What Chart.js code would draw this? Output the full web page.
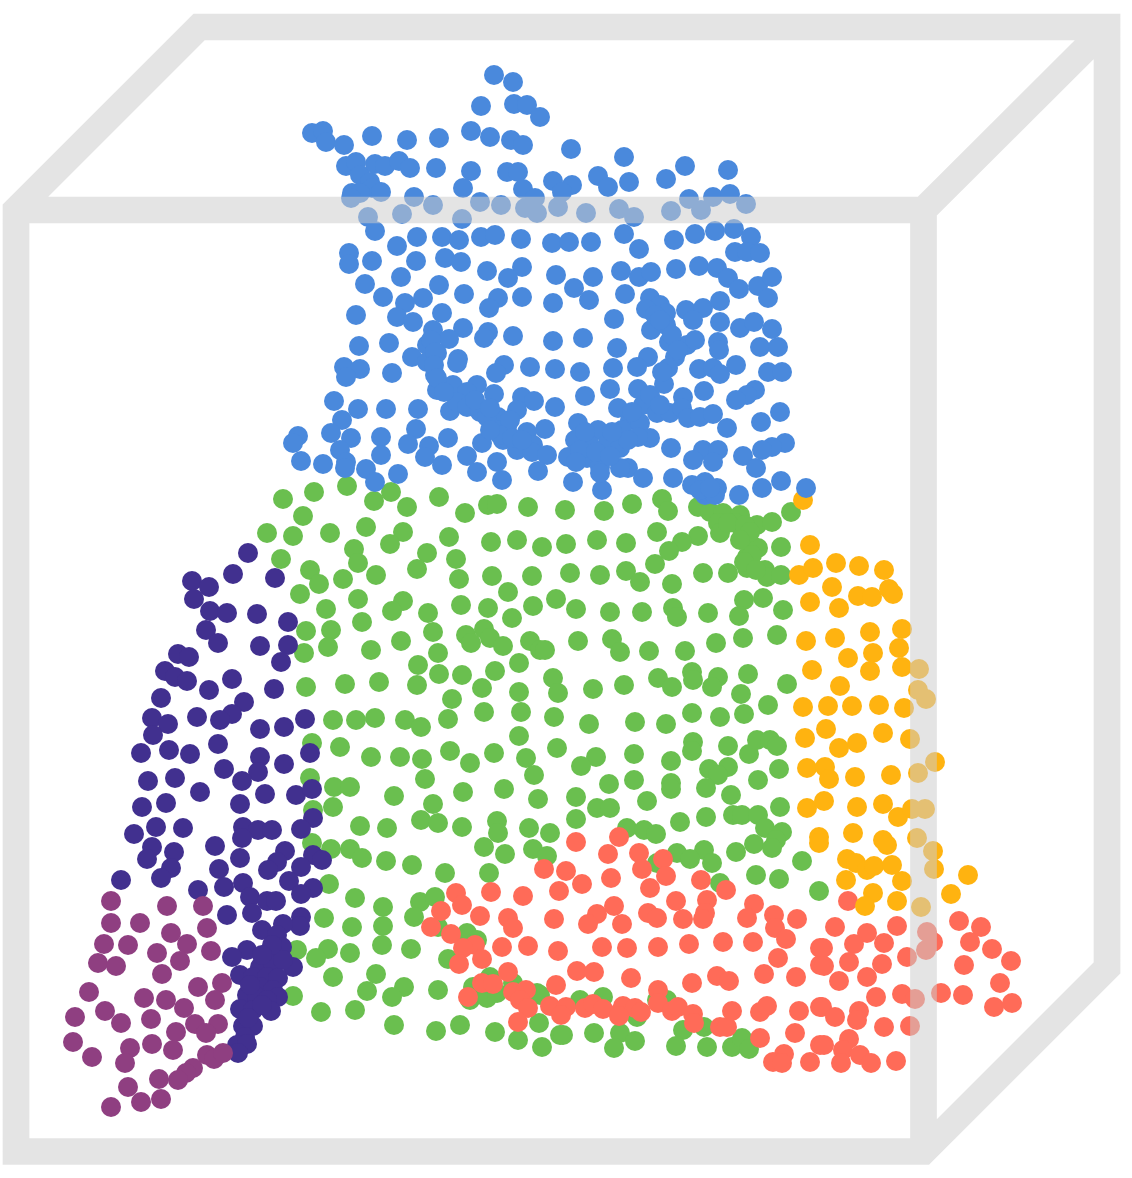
<!DOCTYPE html>
<html>
<head>
<meta charset="utf-8">
<title>3D cluster scatter</title>
<script src="https://cdn.jsdelivr.net/npm/chart.js@4/dist/chart.umd.js"></script>
<style>
html, body { margin: 0; padding: 0; background: #fff; }
canvas { display: block; filter: blur(0.5px); }
</style>
</head>
<body>
<canvas id="cube" width="1132" height="1178"></canvas>
<script>
// Cluster points as [x, y]
const bluePoints = [
[494,75],[513,82],[481,106],[514,104],[527,105],[540,117],[312,133],[323,131],[326,142],[344,145],[372,136],[407,140],[439,138],[471,131],[490,137],[511,140],[523,145],
[346,166],[356,162],[360,175],[375,164],[385,166],[399,161],[410,168],[436,168],[471,171],[507,172],[518,172],[463,188],[553,181],[370,182],[372,188],[352,193],[360,193],[381,192],[523,189],[535,198],[351,198],[414,197],[433,205],[480,202],[501,205],[525,208],[537,213],[368,217],[402,214],[462,219],[375,231],[417,237],[397,246],[442,237],[459,240],[481,237],[495,235],[521,239],[349,253],[349,264],[372,261],[416,261],[445,258],[461,262],[487,271],[522,267],[508,278],[365,284],[401,277],[439,285],
[571,149],[624,157],[685,166],[728,170],[572,185],[598,176],[608,187],[629,182],[666,179],[562,192],[689,199],[713,197],[730,194],[746,204],[701,210],[558,207],[586,213],[619,209],[634,217],[671,211],[624,234],[552,243],[569,242],[591,242],[639,249],[674,240],[695,234],[715,231],[734,229],[751,237],[735,252],[747,252],[760,253],[556,275],[593,277],[574,288],[621,271],[639,277],[651,272],[676,269],[699,266],[717,268],[728,278],[739,289],[758,286],[772,277],[768,298],[553,303],[589,300],[625,294],[650,298],[660,305],[646,309],[666,313],[686,310],[703,308],[720,301],[693,320],[720,322],[614,319],[651,330],[666,325],[740,328],[754,322],[772,329],[553,341],[583,338],[617,348],[669,342],[687,345],[695,340],[718,342],[760,347],[778,347],
[383,297],[423,298],[405,303],[464,294],[498,298],[489,308],[522,297],[356,315],[397,317],[413,322],[442,313],[433,330],[463,328],[449,339],[488,332],[484,338],[513,336],[359,346],[389,343],[427,345],[412,357],[437,353],[427,362],[458,359],[457,363],[344,367],[360,369],[346,377],[392,373],[435,375],[504,365],[496,373],[530,367],[555,369],[437,390],[453,385],[477,385],[467,392],[494,394],[522,397],[534,401],[517,410],[555,407],[334,401],[358,409],[386,409],[418,409],[450,411],[457,402],[467,407],[480,412],[498,417],[487,417],[342,420],[331,433],[416,429],[298,436],[293,443],[351,438],[381,437],[448,438],[545,429],[527,432],[507,427],[497,430],[482,443],[503,440],[408,444],[429,446],[340,450],[381,455],[425,457],[517,450],[533,445],[532,452],[547,455],[467,456],[497,462],[301,461],[323,464],[346,462],[345,468],[366,469],[375,482],[398,474],[442,465],[477,472],[502,480],[538,471],
[675,357],[719,350],[648,357],[637,367],[613,368],[580,372],[668,368],[664,384],[699,369],[713,368],[720,374],[736,365],[768,372],[782,372],[638,389],[610,389],[585,396],[704,391],[755,390],[747,395],[736,400],[683,397],[618,408],[643,405],[657,413],[670,413],[682,408],[688,418],[700,417],[713,414],[727,428],[780,412],[761,422],[578,423],[598,430],[630,420],[622,430],[640,423],[650,438],[638,437],[575,440],[608,443],[620,448],[590,445],[568,457],[587,458],[600,467],[671,448],[703,450],[718,450],[693,460],[713,462],[785,443],[772,447],[762,450],[743,456],[756,468],[628,468],[643,478],[620,468],[673,478],[573,482],[602,490],[600,473],[692,485],[705,482],[717,488],[705,495],[715,495],[739,495],[762,488],[781,481],[806,488],
[431,340],[435,352],[434,365],[437,378],[444,392],[475,400],[490,408],[510,420],[500,435],[512,438],[522,440],[490,430],[632,412],[628,440],[612,432],[585,432],[580,450],[596,452],[610,456],[576,462],[655,315],[660,320],[672,335],[678,350],[662,372],[650,395],[660,405],[700,490],[710,488]
];
const purplePoints = [
[248,553],[233,574],[275,578],[192,581],[209,587],[194,599],[210,611],[227,613],[257,614],[288,622],[206,630],[218,643],[260,646],[288,645],[281,662],[178,654],[189,657],[165,671],[175,677],[187,681],[232,679],[209,690],[274,689],[161,698],[244,702],[232,714],[220,720],[197,717],[152,718],[168,724],[153,735],[260,729],[284,727],[305,719],[141,753],[169,750],[190,754],[218,744],[260,757],[258,772],[310,753],[284,764],[224,769],[242,781],[148,781],[175,778],[200,792],[265,794],[296,795],[312,789],[142,807],[166,803],[240,804],[313,818],[301,829],[134,834],[156,827],[183,828],[243,827],[258,830],[272,830],
[242,838],[152,847],[147,859],[174,852],[171,868],[161,878],[121,880],[215,846],[240,858],[285,851],[277,862],[268,870],[219,869],[313,855],[322,860],[301,867],[289,881],[243,883],[224,887],[198,890],[313,888],[301,894],[250,897],[267,901],[276,901],[252,913],[227,915],[301,917],[300,926],[283,924],[262,930],[277,935],[282,947],[247,950],[232,957],[293,967],[260,967],[273,963],[283,960],[240,975],[253,977],[267,977],[278,978],[260,987],[273,990],[278,997],[247,995],[257,997],[267,1000],[240,1009],[253,1010],[271,1011],[243,1026],[253,1026],[245,1037],[237,1045],[247,1044],[238,1053],
[272,945],[262,955],[250,985],[262,1005],[248,1018]
];
const plumPoints = [
[111,901],[167,906],[203,906],[111,923],[140,923],[207,928],[171,933],[187,944],[104,944],[128,945],[157,953],[211,951],[180,961],[98,963],[116,966],[162,974],[222,983],[198,987],[89,992],[144,998],[166,1000],[215,1000],[184,1008],[105,1011],[75,1017],[121,1023],[151,1019],[195,1024],[218,1024],[206,1033],[176,1032],[73,1042],[152,1044],[130,1048],[173,1050],[92,1057],[125,1063],[207,1055],[214,1059],[223,1053],[193,1068],[186,1073],[178,1080],[159,1079],[128,1087],[141,1102],[161,1099],[111,1107]
];
const greenPoints = [
[283,499],[314,492],[347,486],[391,492],[374,501],[407,507],[439,497],[303,516],[267,533],[293,536],[330,533],[366,527],[465,513],[488,505],[497,504],[528,507],[354,549],[358,563],[403,532],[390,544],[449,537],[491,542],[517,540],[281,559],[427,553],[456,559],[310,570],[319,584],[343,579],[376,575],[417,569],[459,579],[492,576],[532,576],[300,594],[358,599],[508,592],[403,601],[392,611],[326,609],[428,613],[461,605],[488,608],[533,606],[512,618],[362,622],[306,631],[331,630],[328,647],[433,632],[466,635],[471,643],[484,629],[490,638],[503,646],[530,641],[540,650],[401,641],[304,653],[371,650],[438,653],[519,663],[418,665],[495,671],[439,674],[462,675],[482,688],[306,687],[345,684],[379,682],[417,685],[519,692],[452,699],[484,712],[521,712],[333,720],[356,720],[375,718],[405,720],[421,727],[448,719],[519,736],[312,743],[340,747],[371,757],[400,757],[422,759],[450,751],[494,753],[470,763],[526,758],[310,778],[334,787],[350,787],[425,779],[534,775],
[565,510],[604,511],[632,504],[662,499],[668,511],[698,507],[710,512],[723,513],[740,515],[718,523],[735,523],[757,525],[772,522],[791,512],[720,533],[743,533],[698,536],[682,542],[669,551],[657,532],[542,547],[566,544],[597,540],[626,543],[750,543],[758,548],[781,547],[747,557],[655,564],[747,568],[626,571],[570,573],[600,575],[640,582],[672,584],[703,573],[728,573],[765,570],[767,577],[781,575],[744,600],[763,598],[739,616],[783,610],[556,599],[576,609],[610,612],[642,612],[673,608],[677,617],[708,613],[545,650],[578,641],[612,639],[620,652],[649,651],[685,651],[716,643],[743,638],[777,635],[553,678],[558,693],[593,689],[624,685],[658,678],[672,687],[692,672],[693,680],[718,677],[712,687],[748,674],[741,694],[787,684],[768,705],[554,717],[589,724],[635,722],[666,724],[692,713],[720,717],[744,714],[557,748],[596,757],[581,766],[634,754],[671,761],[693,742],[692,751],[728,746],[749,754],[757,740],[770,740],[777,746],[779,769],[709,769],[728,767],[718,775],[758,780],[609,784],[634,780],[671,783],
[333,807],[394,796],[463,792],[504,789],[538,799],[433,804],[421,820],[438,823],[313,810],[360,826],[387,828],[462,827],[497,821],[498,833],[529,828],[550,833],[312,843],[331,849],[350,849],[362,858],[386,861],[412,865],[484,847],[505,854],[533,849],[547,856],[445,873],[489,873],[329,884],[355,898],[383,907],[324,918],[383,926],[352,927],[420,902],[435,897],[414,917],[438,927],[467,933],[477,940],[297,950],[328,949],[316,958],[350,953],[382,945],[411,949],[448,959],[333,977],[376,974],[404,987],[392,997],[367,991],[438,990],[293,996],[321,1012],[355,1010],[394,1025],[436,1031],[460,1025],[495,1032],[518,1040],[542,1047],[539,1023],[473,987],[490,977],[470,1000],[487,998],[497,993],[513,983],[537,993],[560,1035],
[671,789],[576,797],[706,788],[597,808],[610,808],[647,801],[731,795],[576,819],[680,822],[706,817],[733,815],[742,815],[758,815],[780,807],[765,828],[627,828],[644,830],[656,834],[782,832],[776,840],[754,844],[772,848],[736,852],[704,850],[677,853],[690,859],[712,863],[657,863],[802,861],[756,875],[779,879],[720,883],[819,891],[580,1000],[603,997],[657,1000],[667,1000],[540,995],[563,1035],[594,1033],[620,1033],[635,1041],[614,1048],[637,1017],[683,1030],[676,1046],[704,1027],[707,1047],[732,1047],[742,1038],[749,1049],
[728,523],[745,525],[750,532],[740,540],[752,555],[744,562],[756,570]
];
const orangePoints = [
[803,500],[810,545],[799,575],[813,568],[836,563],[859,566],[884,570],[832,587],[858,596],[872,597],[889,589],[893,594],[810,602],[839,608],[870,632],[902,629],[806,641],[835,638],[848,658],[873,653],[899,648],[870,671],[902,667],[919,669],[812,670],[840,686],[918,690],[926,699],[803,707],[828,706],[852,706],[879,705],[904,708],[826,729],[805,738],[839,748],[857,743],[883,733],[910,739],[935,762],[807,768],[825,767],[829,779],[855,777],[891,775],[918,773],[807,808],[824,801],[857,807],[883,804],[898,817],[912,809],[925,809],[819,837],[819,843],[853,833],[883,840],[887,845],[917,838],[933,851],[847,859],[856,863],[867,870],[874,866],[892,865],[934,869],[846,880],[902,881],[968,875],[873,893],[865,906],[897,901],[951,894],[921,907]
];
const redPoints = [
[544,869],[456,893],[462,905],[491,892],[523,896],[441,911],[480,916],[508,918],[513,928],[431,927],[451,934],[502,947],[528,946],[475,945],[463,948],[482,959],[459,964],[508,972],[482,983],[493,984],[468,997],[513,992],[526,990],[520,1000],[528,1008],[518,1022],
[619,837],[576,842],[608,854],[639,853],[642,869],[663,859],[666,876],[566,871],[582,884],[559,891],[611,878],[650,888],[701,880],[726,890],[676,901],[707,900],[705,913],[703,919],[683,919],[614,906],[597,914],[588,924],[622,924],[648,913],[657,918],[554,919],[754,904],[747,918],[774,915],[775,928],[786,939],[797,919],[558,951],[602,947],[627,948],[658,947],[689,944],[723,942],[753,942],[778,958],[820,948],[577,971],[594,972],[631,978],[556,985],[692,983],[717,976],[729,981],[764,974],[796,977],[820,965],
[550,1006],[566,1007],[561,1015],[585,1008],[593,1004],[603,1009],[620,1012],[623,1006],[635,1008],[641,1012],[619,1016],[658,990],[658,1003],[672,1011],[678,1007],[693,1014],[694,1023],[720,1027],[727,1027],[732,1011],[760,1012],[767,1006],[799,1011],[820,1007],[795,1033],[760,1038],[820,1045],[784,1054],[773,1062],[782,1063],[810,1062],
[848,901],[835,927],[867,933],[897,926],[854,944],[884,943],[823,948],[849,962],[824,966],[882,964],[907,957],[927,932],[933,942],[926,950],[959,921],[981,927],[970,942],[992,949],[1011,961],[964,965],[839,981],[867,977],[876,997],[902,994],[915,999],[941,993],[963,995],[1000,983],[994,1007],[1012,1003],[822,1007],[835,1017],[859,1011],[857,1020],[884,1027],[910,1026],[824,1045],[849,1039],[843,1050],[860,1055],[871,1063],[841,1063],[896,1061]
];

// Wire frame of the cube, null breaks the line
const cubeFrame = [
[16,600],[16,210],[199,27],[1107,27],[1107,968],[923.5,1151.5],[16,1151.5],[16,600],[null,null],
[16,210],[923.5,210],[1107,27],[null,null],
[923.5,210],[923.5,1151.5]
];

function toXY(list) {
    return list.map(p => ({ x: p[0], y: p[1] }));
}

function cluster(label, points, color) {
    return {
        label: label,
        data: toXY(points),
        backgroundColor: color,
        borderColor: color,
        borderWidth: 0,
        pointRadius: 10,
        pointHoverRadius: 10,
        clip: false,
    };
}

const ctx = document.getElementById('cube').getContext('2d');

new Chart(ctx, {
    type: 'scatter',
    data: {
        datasets: [
            // first dataset is painted last, so the frame veils the dots
            {
                label: 'frame',
                data: toXY(cubeFrame),
                showLine: true,
                spanGaps: false,
                borderColor: 'rgba(204,204,204,0.53)',
                borderWidth: 26.7,
                borderJoinStyle: 'miter',
                pointRadius: 0,
                pointHoverRadius: 0,
                fill: false,
                clip: false,
            },
            cluster('blue', bluePoints, '#4a89dc'),
            cluster('plum', plumPoints, '#8f3f81'),
            cluster('purple', purplePoints, '#41308f'),
            cluster('orange', orangePoints, '#ffb310'),
            cluster('red', redPoints, '#ff6b58'),
            cluster('green', greenPoints, '#6abf4f'),
        ],
    },
    options: {
        responsive: false,
        animation: false,
        layout: { padding: 0, autoPadding: false },
        plugins: {
            legend: { display: false },
            tooltip: { enabled: false },
        },
        scales: {
            x: { type: 'linear', min: 0, max: 1132, display: false },
            y: { type: 'linear', min: 0, max: 1178, reverse: true, display: false },
        },
    },
});
</script>
</body>
</html>
